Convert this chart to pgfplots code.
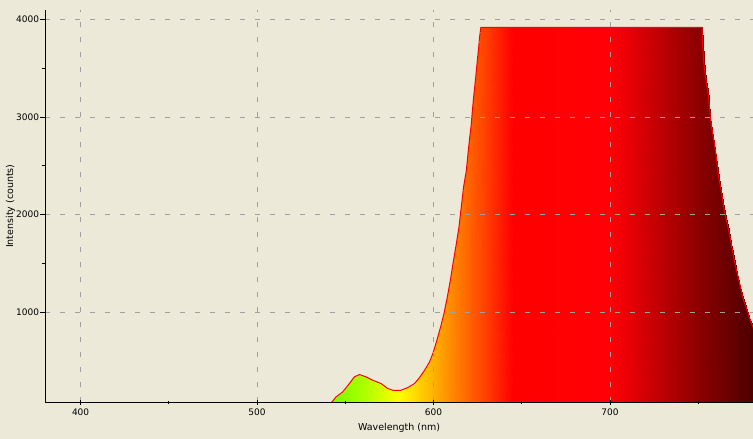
\documentclass[border=0pt]{standalone}
\usepackage{pgfplots}
\pgfplotsset{compat=1.18}
\usepackage{pgfplotstable}
\usepackage{fontspec}
\setmainfont{DejaVu Sans}
\definecolor{panel}{HTML}{ECE9D8}
\definecolor{gridgray}{RGB}{160,160,160}

% spectrum (nm, counts)
\pgfplotstableread{
x y
540 60
542.4 80
544.7 133
548.5 184
552.3 270
555.1 338
558 362
561.8 338
565.5 304
570.3 270
574 219
577 201
581.5 201
585.4 229
589.2 270
592 330
594.9 406
597.7 491
599.6 577
601.5 690
604 850
605.9 987
607.8 1157
609.5 1328
611 1498
612.9 1703
614.4 1874
615.7 2078
617 2283
618.6 2454
619.5 2624
620.5 2795
621.4 2931
622 3068
622.9 3239
623.9 3410
624.8 3580
625.6 3720
626.1 3822
626.8 3918
630 3918
640 3918
650 3918
660 3918
670 3918
680 3918
690 3918
700 3918
710 3918
720 3918
730 3918
740 3918
752.1 3918
752.4 3767
753 3580
753.6 3476
754.4 3375
755.3 3272
756 3170
756.8 3000
757.8 2863
759.1 2730
760.2 2590
761.5 2385
763 2249
764.4 2078
765.5 1976
767.2 1840
768.6 1706
770 1566
772 1399
773.9 1259
775.7 1123
777.7 1020
779.5 918
781.3 836
}\spec
\pgfplotstablegetrowsof{\spec}
\edef\N{\pgfplotsretval}
% two copies: first one is the baseline row of the shaded mesh
\pgfplotstablevertcat{\both}{\spec}
\pgfplotstablevertcat{\both}{\spec}

\begin{document}
\begin{tikzpicture}
\fill[panel] (-45.3pt,-36.7pt) rectangle (707.7pt,402.3pt);
\begin{axis}[
  at={(0pt,0pt)}, anchor=south west,
  scale only axis, width=707.7pt, height=392.3pt,
  xmin=380, xmax=781, ymin=78, ymax=4095,
  axis x line=bottom, axis y line=left,
  axis line style={-, black, line width=0.8pt},
  axis on top,
  xtick={400,500,600,700}, minor xtick={450,550,650,750},
  ytick={1000,2000,3000,4000}, minor ytick={1500,2500,3500},
  xtick align=center, ytick align=outside,
  major tick length=5pt, minor tick length=3pt,
  tick style={black, line width=0.8pt},
  xmajorgrids, ymajorgrids,
  major grid style={gridgray, line width=0.8pt, dash pattern=on 5pt off 10pt},
  /pgf/number format/assume math mode=true,
  /pgf/number format/1000 sep={},
  ticklabel style={font=\fontsize{9}{10}\selectfont},
  yticklabel style={inner sep=1pt},
  xticklabel style={inner sep=2pt, yshift=-2pt},
  xlabel={Wavelength (nm)}, ylabel={Intensity (counts)},
  every axis x label/.style={at={([yshift=-25.2pt]axis description cs:0.5,0)}, anchor=center, font=\fontsize{9.5}{11}\selectfont},
  every axis y label/.style={at={([xshift=-34.8pt]axis description cs:0,0.5)}, anchor=center, rotate=90, font=\fontsize{9.5}{11}\selectfont},
  colormap={spectrum}{rgb255(540pt)=(110,255,0) rgb255(560pt)=(170,255,0) rgb255(580pt)=(255,255,0) rgb255(600pt)=(255,176,0) rgb255(625pt)=(255,80,0) rgb255(645pt)=(255,0,0) rgb255(700pt)=(255,0,6) rgb255(750pt)=(140,0,0) rgb255(790pt)=(60,0,0)},
  point meta min=540, point meta max=790,
]
\addplot[surf, shader=interp, mesh/rows=2, point meta=x]
  table[x=x, y expr={\coordindex<\N ? 0 : \thisrow{y}}] {\both};
\addplot[red, line width=1pt, no marks] table[x=x, y=y] {\spec};
\end{axis}
\pgfresetboundingbox
\path[use as bounding box] (-45.3pt,-36.7pt) rectangle (707.7pt,402.3pt);
\end{tikzpicture}
\end{document}
